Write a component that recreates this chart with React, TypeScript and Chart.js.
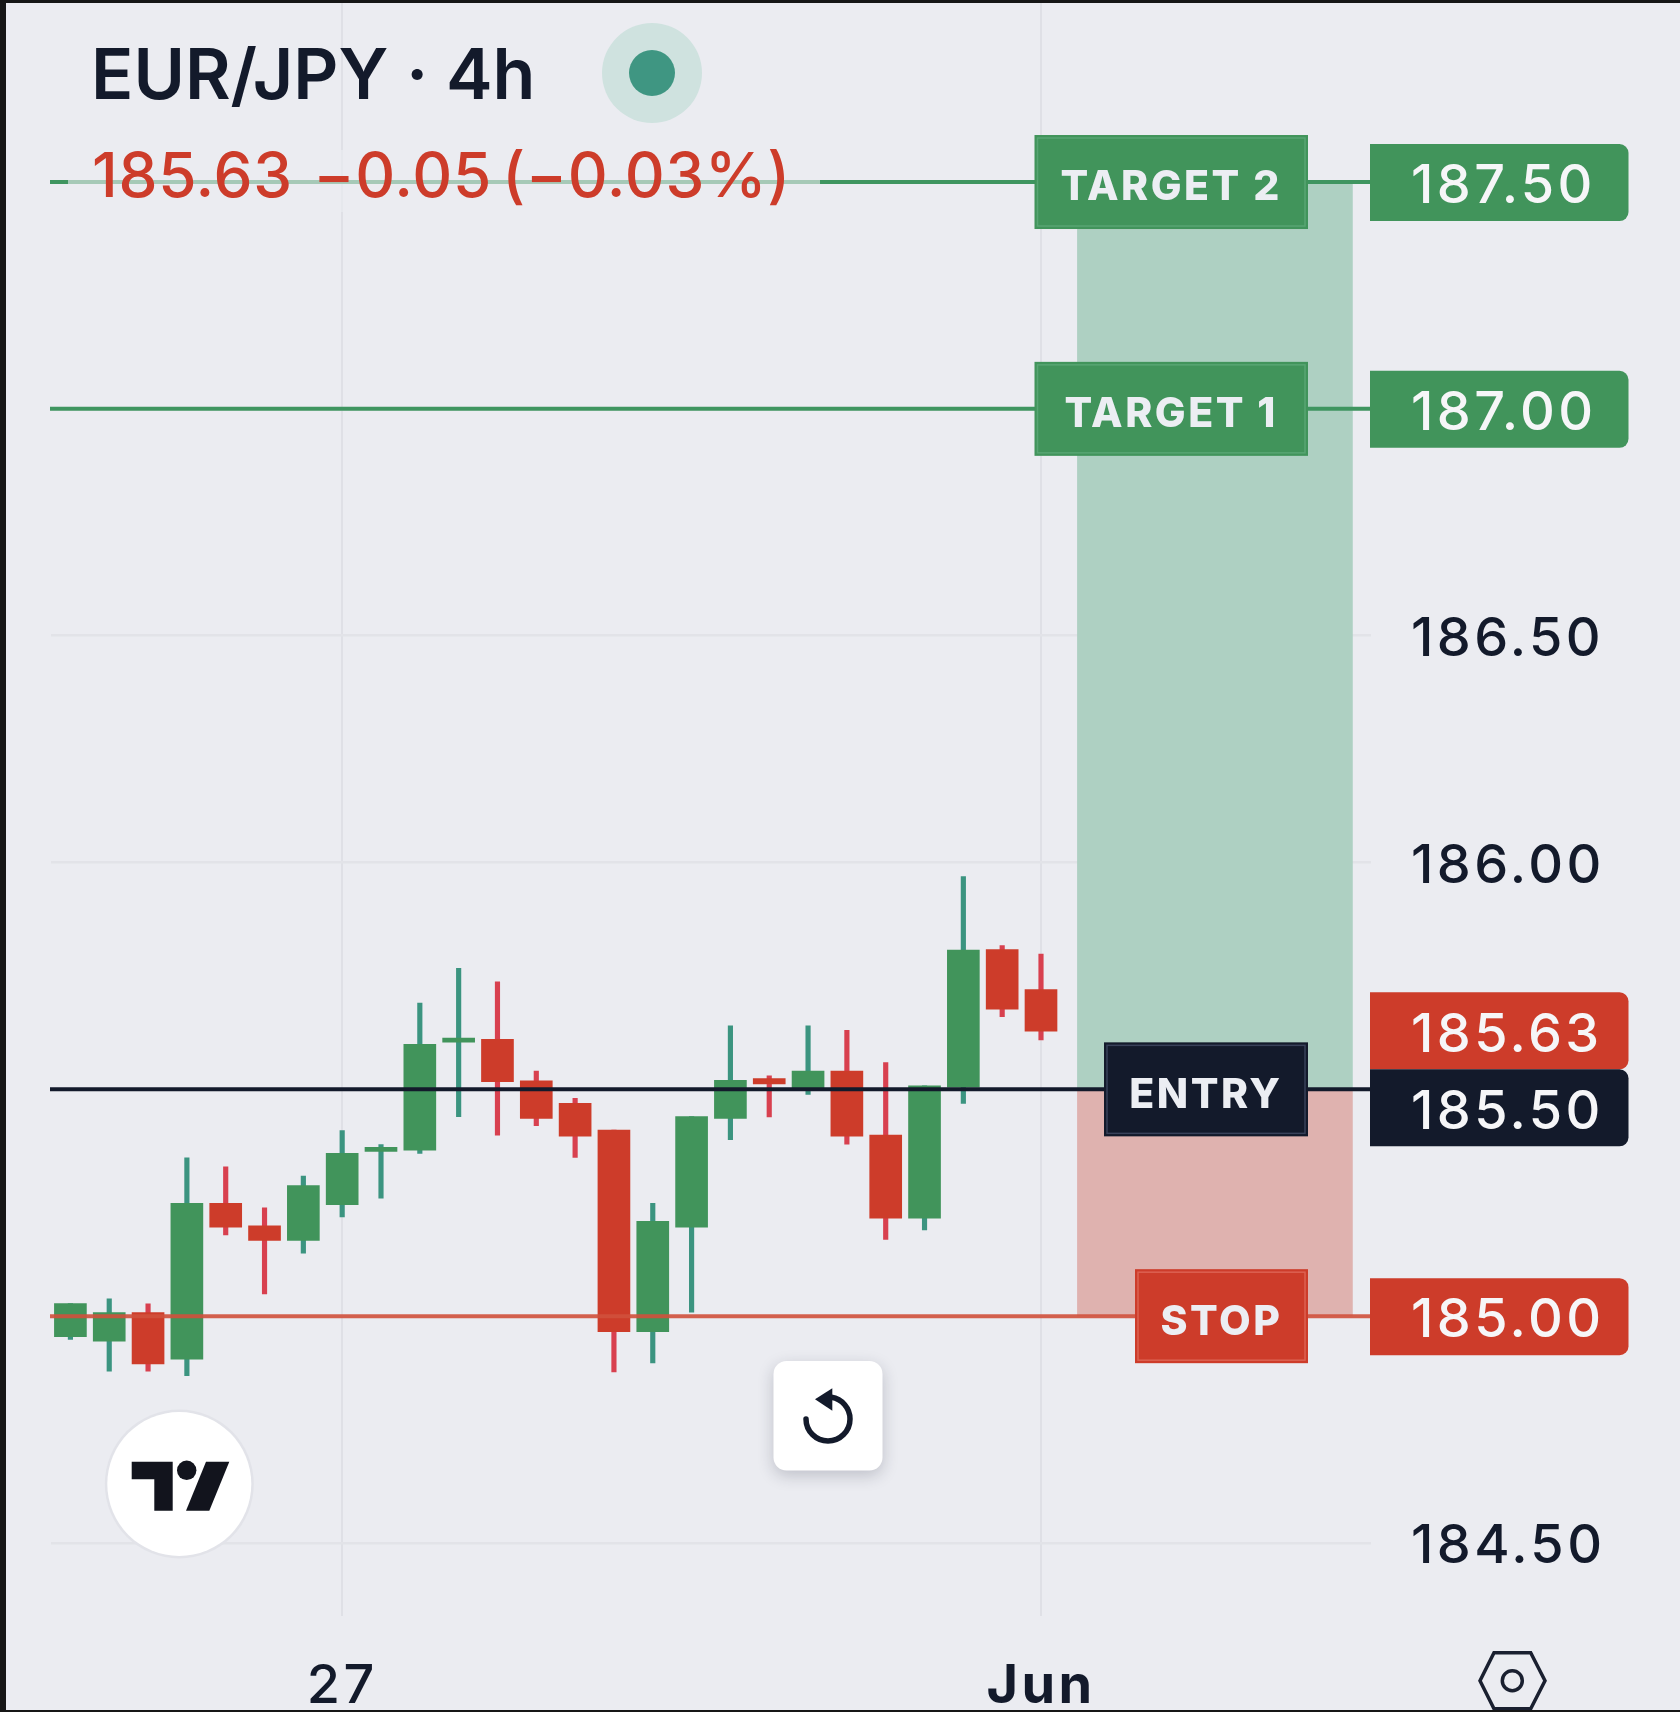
import React, { useEffect, useRef } from "react";
import { Chart, registerables } from "chart.js";

Chart.register(...registerables);

const categories = [
  "", "", "", "", "", "", "", "27", "", "", "", "", "", "", "", "", "",
  "", "", "", "", "", "", "", "", "Jun", "", "", "", "", "", "", "", "",
];
const opens = [184.955, 184.945, 185.008, 184.905, 185.249, 185.199, 185.167, 185.246, 185.363, 185.366, 185.604, 185.61, 185.519, 185.469, 185.41, 184.966, 185.196, 185.436, 185.524, 185.503, 185.54, 185.399, 185.216, 185.505, 185.808, 185.72];
const highs = [185.028, 185.038, 185.027, 185.349, 185.329, 185.239, 185.309, 185.409, 185.378, 185.69, 185.767, 185.737, 185.54, 185.48, 185.41, 185.249, 185.44, 185.64, 185.53, 185.64, 185.63, 185.559, 185.508, 185.969, 185.817, 185.798];
const lows = [184.949, 184.879, 184.879, 184.869, 185.179, 185.049, 185.139, 185.219, 185.26, 185.359, 185.44, 185.399, 185.42, 185.35, 184.877, 184.897, 185.009, 185.389, 185.439, 185.489, 185.379, 185.169, 185.19, 185.469, 185.66, 185.609];
const closes = [185.028, 185.008, 184.895, 185.249, 185.196, 185.167, 185.288, 185.359, 185.372, 185.599, 185.613, 185.517, 185.436, 185.397, 184.966, 185.209, 185.44, 185.52, 185.512, 185.54, 185.397, 185.216, 185.508, 185.807, 185.677, 185.628];

const priceTicks = [184.5, 185, 185.5, 186, 186.5, 187, 187.5];
const plainTicks = ["186.50", "186.00", "184.50"];

const levelValues = [187.5, 187, 185.5, 185];
const levelNames = ["TARGET 2", "TARGET 1", "ENTRY", "STOP"];
const lastPrice = 185.63;
const titleText = "EUR/JPY · 4h";
const quoteText = "185.63  −0.05 (−0.03%)";

const BG = "#ebecf1";
const INK = "#131a2b";
const GREEN = "#41945b";
const RED = "#cd3c2a";
const GREEN_WICK = "#3b9480";
const RED_WICK = "#d8404f";
const FONT = "Inter, 'Noto Sans', sans-serif";

const levelColors = [GREEN, GREEN, INK, RED];
const levelLineColors = ["#3f9560", "#3f9560", "#131a2b", "#d0503c"];
const boxInner = ["#58a573", "#58a573", "#39425a", "#dc6152"];
const boxLeft = [1034.5, 1034.5, 1104, 1135];

const overlay = {
  id: "overlay",
  beforeDraw(chart: any) {
    const { ctx } = chart;
    ctx.save();
    ctx.fillStyle = "#161616";
    ctx.fillRect(0, 0, 1680, 1712);
    ctx.fillStyle = BG;
    ctx.fillRect(6, 3, 1674, 1707);
    ctx.restore();
    ctx.letterSpacing = "3.4px";
  },
  beforeDatasetsDraw(chart: any) {
    const { ctx, scales } = chart;
    const xa = scales.x.getPixelForValue(25.93);
    const xb = scales.x.getPixelForValue(33.03);
    const yTop = scales.y.getPixelForValue(levelValues[0]);
    const yMid = scales.y.getPixelForValue(levelValues[2]);
    const yBot = scales.y.getPixelForValue(levelValues[3]);
    ctx.save();
    ctx.fillStyle = "#aed0c2";
    ctx.fillRect(xa, yTop, xb - xa, yMid - yTop);
    ctx.fillStyle = "#dfb2af";
    ctx.fillRect(xa, yMid, xb - xa, yBot - yMid);
    ctx.restore();
  },
  afterDatasetsDraw(chart: any) {
    const { ctx, scales, chartArea } = chart;
    const y = (v: number) => scales.y.getPixelForValue(v);
    ctx.save();
    ctx.letterSpacing = "0px";

    // level lines
    levelValues.forEach((v, i) => {
      ctx.strokeStyle = levelLineColors[i];
      ctx.globalAlpha = i === 3 ? 0.9 : 1;
      ctx.lineWidth = 4;
      ctx.beginPath();
      ctx.moveTo(chartArea.left - 1, y(v));
      ctx.lineTo(chartArea.right, y(v));
      ctx.stroke();
    });
    ctx.globalAlpha = 1;

    // legend
    ctx.fillStyle = "rgba(235,236,241,0.6)";
    ctx.fillRect(68, 150, 752, 62);
    ctx.textBaseline = "alphabetic";
    ctx.textAlign = "left";
    ctx.fillStyle = INK;
    ctx.font = `600 70px ${FONT}`;
    ctx.fillText(titleText, 91, 99);
    ctx.fillStyle = "#cfe2df";
    ctx.beginPath();
    ctx.arc(652, 73, 50, 0, Math.PI * 2);
    ctx.fill();
    ctx.fillStyle = "#3f9682";
    ctx.beginPath();
    ctx.arc(652, 73, 23, 0, Math.PI * 2);
    ctx.fill();
    ctx.fillStyle = RED;
    ctx.font = `500 62px ${FONT}`;
    ctx.letterSpacing = "0.7px";
    ctx.wordSpacing = "-7px";
    ctx.fillText(quoteText, 92, 197);
    ctx.wordSpacing = "0px";

    // boxes on the level lines
    ctx.textAlign = "center";
    ctx.textBaseline = "middle";
    levelValues.forEach((v, i) => {
      const cy = y(v);
      const top = cy - 47;
      const w = 1308 - boxLeft[i];
      ctx.fillStyle = levelColors[i];
      ctx.fillRect(boxLeft[i], top, w, 94);
      ctx.strokeStyle = boxInner[i];
      ctx.lineWidth = 1.5;
      ctx.strokeRect(boxLeft[i] + 3, top + 3, w - 6, 88);
      ctx.fillStyle = "#eceef3";
      ctx.font = `800 41px ${FONT}`;
      ctx.letterSpacing = "2.5px";
      ctx.fillText(levelNames[i], (boxLeft[i] + 1308) / 2, cy + 6);
    });

    // right-hand price tags; the entry tag is pushed below the last price
    const drawTag = (top: number, color: string, label: string) => {
      ctx.fillStyle = color;
      ctx.beginPath();
      ctx.roundRect(1370, top, 258.5, 77, [0, 9, 9, 0]);
      ctx.fill();
      ctx.fillStyle = "#f6f6f8";
      ctx.font = `500 54px ${FONT}`;
      ctx.letterSpacing = "3.4px";
      ctx.textAlign = "left";
      ctx.fillText(label, 1411, top + 43);
    };
    const lastTop = y(lastPrice) - 38;
    drawTag(y(levelValues[0]) - 38, levelColors[0], levelValues[0].toFixed(2));
    drawTag(y(levelValues[1]) - 38, levelColors[1], levelValues[1].toFixed(2));
    drawTag(lastTop, RED, lastPrice.toFixed(2));
    drawTag(Math.max(y(levelValues[2]) - 38, lastTop + 77), levelColors[2], levelValues[2].toFixed(2));
    drawTag(y(levelValues[3]) - 38, levelColors[3], levelValues[3].toFixed(2));
    ctx.letterSpacing = "0px";

    // reset button
    ctx.save();
    ctx.shadowColor = "rgba(30,35,60,0.22)";
    ctx.shadowBlur = 16;
    ctx.shadowOffsetY = 5;
    ctx.fillStyle = "#ffffff";
    ctx.beginPath();
    ctx.roundRect(773.5, 1361, 109, 109.5, 13);
    ctx.fill();
    ctx.restore();
    ctx.strokeStyle = INK;
    ctx.lineWidth = 5.5;
    ctx.lineCap = "round";
    ctx.beginPath();
    ctx.arc(828, 1419, 22, Math.PI, Math.PI * 1.55, true);
    ctx.stroke();
    ctx.lineCap = "butt";
    ctx.fillStyle = INK;
    ctx.beginPath();
    ctx.moveTo(815, 1399.3);
    ctx.lineTo(832.3, 1388.3);
    ctx.lineTo(832.3, 1410.7);
    ctx.closePath();
    ctx.fill();

    // TradingView badge
    ctx.fillStyle = "#e2e3e9";
    ctx.beginPath();
    ctx.arc(179.3, 1484, 74.5, 0, Math.PI * 2);
    ctx.fill();
    ctx.fillStyle = "#ffffff";
    ctx.beginPath();
    ctx.arc(179.3, 1484, 72, 0, Math.PI * 2);
    ctx.fill();
    ctx.fillStyle = "#12141d";
    ctx.beginPath();
    ctx.moveTo(131.7, 1461.7);
    ctx.lineTo(172.7, 1461.7);
    ctx.lineTo(172.7, 1510.7);
    ctx.lineTo(154.3, 1510.7);
    ctx.lineTo(154.3, 1479.3);
    ctx.lineTo(131.7, 1479.3);
    ctx.closePath();
    ctx.fill();
    ctx.beginPath();
    ctx.arc(186.7, 1470.3, 9.7, 0, Math.PI * 2);
    ctx.fill();
    ctx.beginPath();
    ctx.moveTo(206, 1461.7);
    ctx.lineTo(229.3, 1461.7);
    ctx.lineTo(209.3, 1510.7);
    ctx.lineTo(186, 1510.7);
    ctx.closePath();
    ctx.fill();

    // settings hexagon
    ctx.strokeStyle = "#1a2030";
    ctx.lineWidth = 3.5;
    ctx.beginPath();
    ctx.moveTo(1480, 1680.7);
    ctx.lineTo(1494, 1652.7);
    ctx.lineTo(1530.7, 1652.7);
    ctx.lineTo(1545, 1680.7);
    ctx.lineTo(1530.7, 1708.7);
    ctx.lineTo(1494, 1708.7);
    ctx.closePath();
    ctx.stroke();
    ctx.beginPath();
    ctx.arc(1512.3, 1680.7, 10, 0, Math.PI * 2);
    ctx.stroke();
    ctx.restore();

    // frame strip at the bottom stays above the icon
    ctx.fillStyle = "#161616";
    ctx.fillRect(0, 1710, 1680, 2);
  },
};

export default function App() {
  const ref = useRef<HTMLCanvasElement | null>(null);
  useEffect(() => {
    const up = closes.map((c, i) => c >= opens[i]);
    const chart = new Chart(ref.current as HTMLCanvasElement, {
      type: "bar",
      data: {
        labels: categories,
        datasets: [
          {
            label: "Body",
            data: opens.map((o, i) => [o, closes[i]]),
            backgroundColor: up.map((u) => (u ? GREEN : RED)),
            barThickness: 32,
            order: 1,
          },
          {
            label: "Wick",
            data: lows.map((l, i) => [l, highs[i]]),
            backgroundColor: up.map((u) => (u ? GREEN_WICK : RED_WICK)),
            barThickness: 4.5,
            order: 2,
          },
        ] as any,
      },
      options: {
        animation: false,
        responsive: false,
        devicePixelRatio: 1,
        layout: { padding: { left: 51, top: 3, right: 0, bottom: 0 } },
        datasets: { bar: { grouped: false, borderSkipped: false, borderWidth: 0 } },
        plugins: { legend: { display: false }, tooltip: { enabled: false }, title: { display: false } },
        scales: {
          x: {
            type: "category",
            offset: true,
            afterFit: (s: any) => {
              s.height = 96.4;
              s.paddingLeft = 0;
              s.paddingRight = 0;
            },
            border: { display: false },
            grid: {
              offset: false,
              drawTicks: false,
              lineWidth: 2,
              color: (c: any) => (c.tick && c.tick.label ? "#dfe0e6" : "rgba(0,0,0,0)"),
            },
            ticks: {
              autoSkip: false,
              maxRotation: 0,
              minRotation: 0,
              padding: 39,
              color: INK,
              font: (c: any) => ({
                family: FONT,
                size: 54,
                weight: c.tick && c.tick.label === "Jun" ? "700" : "500",
              }),
            },
          },
          y: {
            type: "linear",
            position: "right",
            min: 184.34,
            max: 187.8946,
            afterFit: (s: any) => {
              s.width = 309;
              s.paddingTop = 0;
              s.paddingBottom = 0;
            },
            afterBuildTicks: (s: any) => {
              s.ticks = priceTicks.map((value) => ({ value }));
            },
            border: { display: false },
            grid: { drawTicks: false, lineWidth: 2.5, color: "#e2e3e8" },
            ticks: {
              autoSkip: false,
              padding: 40,
              labelOffset: 4,
              color: INK,
              font: { family: FONT, size: 54, weight: "500" },
              callback: (v: any) => {
                const t = Number(v).toFixed(2);
                return plainTicks.includes(t) ? t : "";
              },
            },
          },
        },
      } as any,
      plugins: [overlay],
    });
    return () => chart.destroy();
  }, []);
  return (
    <canvas
      ref={ref}
      width={1680}
      height={1712}
      style={{ position: "fixed", left: 0, top: 0, width: 1680, height: 1712, display: "block" }}
    />
  );
}
